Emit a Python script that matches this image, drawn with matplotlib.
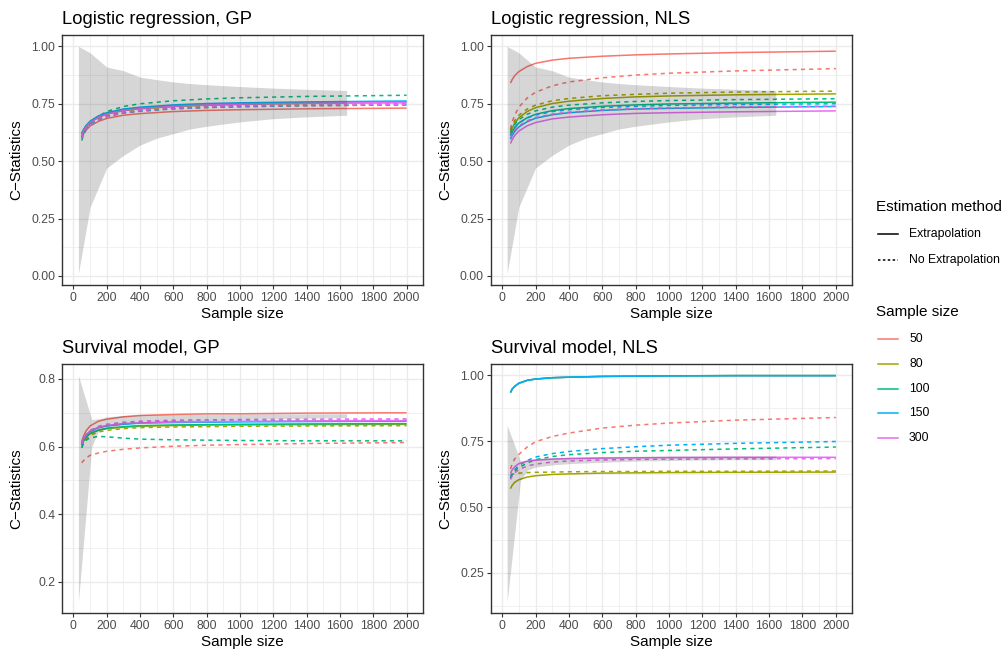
import numpy as np
import matplotlib.pyplot as plt
from matplotlib.lines import Line2D

plt.rcParams['font.family'] = ['Liberation Sans', 'DejaVu Sans']

# legend levels
sizes = ['50', '80', '100', '150', '300']
colors = ['#F8766D', '#A3A500', '#00BF7D', '#00B0F6', '#E76BF3']
methods = ['Extrapolation', 'No Extrapolation']

# sample sizes at which the learning curves were read
n_grid = [50, 60, 75, 100, 150, 200, 300, 400, 600, 800, 1000, 1400, 2000]

# Logistic regression, GP
lr_gp_extra = {
    '50':  [0.605, 0.619, 0.635, 0.653, 0.673, 0.686, 0.700, 0.707, 0.716, 0.721, 0.724, 0.728, 0.731],
    '80':  [0.615, 0.630, 0.649, 0.668, 0.691, 0.705, 0.720, 0.728, 0.738, 0.744, 0.747, 0.752, 0.755],
    '100': [0.620, 0.635, 0.653, 0.672, 0.695, 0.708, 0.724, 0.732, 0.741, 0.747, 0.750, 0.755, 0.758],
    '150': [0.620, 0.636, 0.654, 0.674, 0.697, 0.711, 0.727, 0.735, 0.745, 0.751, 0.754, 0.758, 0.762],
    '300': [0.615, 0.631, 0.649, 0.669, 0.691, 0.705, 0.721, 0.729, 0.739, 0.745, 0.748, 0.752, 0.756],
}
lr_gp_noextra = {
    '50':  [0.600, 0.616, 0.635, 0.655, 0.678, 0.693, 0.709, 0.717, 0.728, 0.733, 0.737, 0.741, 0.745],
    '80':  [0.605, 0.621, 0.640, 0.660, 0.683, 0.698, 0.714, 0.722, 0.733, 0.738, 0.742, 0.746, 0.750],
    '100': [0.590, 0.612, 0.637, 0.665, 0.696, 0.716, 0.738, 0.750, 0.763, 0.771, 0.776, 0.782, 0.787],
    '150': [0.605, 0.620, 0.639, 0.658, 0.681, 0.695, 0.710, 0.718, 0.728, 0.734, 0.737, 0.742, 0.745],
    '300': [0.600, 0.616, 0.636, 0.656, 0.680, 0.695, 0.711, 0.720, 0.730, 0.736, 0.740, 0.744, 0.748],
}

# Logistic regression, NLS
lr_nls_extra = {
    '50':  [0.840, 0.855, 0.872, 0.890, 0.912, 0.926, 0.940, 0.948, 0.957, 0.963, 0.967, 0.973, 0.979],
    '80':  [0.625, 0.643, 0.665, 0.689, 0.716, 0.733, 0.751, 0.761, 0.773, 0.780, 0.784, 0.789, 0.793],
    '100': [0.610, 0.626, 0.645, 0.666, 0.689, 0.704, 0.720, 0.729, 0.739, 0.745, 0.749, 0.753, 0.757],
    '150': [0.595, 0.611, 0.629, 0.649, 0.672, 0.687, 0.702, 0.711, 0.721, 0.727, 0.730, 0.734, 0.738],
    '300': [0.577, 0.593, 0.611, 0.631, 0.654, 0.668, 0.684, 0.692, 0.702, 0.708, 0.711, 0.715, 0.719],
}
lr_nls_noextra = {
    '50':  [0.640, 0.670, 0.700, 0.735, 0.775, 0.800, 0.828, 0.845, 0.863, 0.875, 0.883, 0.893, 0.903],
    '80':  [0.635, 0.654, 0.676, 0.700, 0.727, 0.744, 0.763, 0.773, 0.785, 0.791, 0.796, 0.801, 0.805],
    '100': [0.625, 0.641, 0.660, 0.681, 0.704, 0.719, 0.735, 0.744, 0.754, 0.760, 0.764, 0.768, 0.772],
    '150': [0.615, 0.630, 0.647, 0.666, 0.688, 0.701, 0.716, 0.724, 0.734, 0.739, 0.743, 0.747, 0.750],
    '300': [0.600, 0.615, 0.634, 0.653, 0.676, 0.690, 0.705, 0.713, 0.723, 0.729, 0.732, 0.737, 0.740],
}

# Survival model, GP
sv_gp_extra = {
    '50':  [0.615, 0.630, 0.646, 0.661, 0.675, 0.681, 0.688, 0.692, 0.695, 0.697, 0.697, 0.699, 0.700],
    '80':  [0.605, 0.616, 0.627, 0.638, 0.648, 0.653, 0.657, 0.660, 0.662, 0.664, 0.664, 0.665, 0.666],
    '100': [0.605, 0.616, 0.628, 0.639, 0.649, 0.654, 0.659, 0.662, 0.664, 0.665, 0.666, 0.667, 0.668],
    '150': [0.610, 0.622, 0.633, 0.645, 0.656, 0.661, 0.666, 0.669, 0.671, 0.672, 0.673, 0.674, 0.675],
    '300': [0.610, 0.622, 0.634, 0.646, 0.657, 0.662, 0.668, 0.670, 0.673, 0.674, 0.675, 0.676, 0.677],
}
sv_gp_noextra = {
    '50':  [0.552, 0.558, 0.566, 0.574, 0.581, 0.586, 0.592, 0.596, 0.601, 0.604, 0.606, 0.609, 0.612],
    '80':  [0.598, 0.610, 0.621, 0.633, 0.643, 0.648, 0.653, 0.656, 0.658, 0.659, 0.660, 0.661, 0.662],
    '100': [0.596, 0.608, 0.618, 0.626, 0.630, 0.629, 0.625, 0.622, 0.620, 0.619, 0.618, 0.617, 0.617],
    '150': [0.605, 0.618, 0.631, 0.644, 0.656, 0.662, 0.668, 0.671, 0.674, 0.675, 0.676, 0.677, 0.678],
    '300': [0.608, 0.621, 0.635, 0.648, 0.660, 0.666, 0.672, 0.675, 0.678, 0.679, 0.680, 0.681, 0.682],
}

# Survival model, NLS
sv_nls_extra = {
    '50':  [0.935, 0.948, 0.958, 0.970, 0.981, 0.986, 0.991, 0.993, 0.996, 0.997, 0.998, 0.999, 0.999],
    '80':  [0.570, 0.583, 0.594, 0.604, 0.614, 0.619, 0.624, 0.626, 0.629, 0.630, 0.631, 0.632, 0.633],
    '100': [0.935, 0.948, 0.958, 0.970, 0.981, 0.986, 0.991, 0.993, 0.996, 0.997, 0.998, 0.999, 0.999],
    '150': [0.935, 0.948, 0.958, 0.970, 0.981, 0.986, 0.991, 0.993, 0.996, 0.997, 0.998, 0.999, 0.999],
    '300': [0.628, 0.641, 0.653, 0.665, 0.674, 0.678, 0.682, 0.684, 0.686, 0.687, 0.688, 0.689, 0.689],
}
sv_nls_noextra = {
    '50':  [0.645, 0.663, 0.683, 0.700, 0.728, 0.748, 0.768, 0.781, 0.800, 0.811, 0.819, 0.830, 0.840],
    '80':  [0.620, 0.624, 0.627, 0.629, 0.631, 0.632, 0.633, 0.634, 0.635, 0.635, 0.636, 0.636, 0.637],
    '100': [0.610, 0.623, 0.636, 0.650, 0.667, 0.680, 0.692, 0.699, 0.707, 0.712, 0.715, 0.721, 0.728],
    '150': [0.615, 0.628, 0.642, 0.658, 0.677, 0.690, 0.703, 0.711, 0.722, 0.729, 0.735, 0.742, 0.749],
    '300': [0.605, 0.618, 0.630, 0.642, 0.656, 0.663, 0.671, 0.675, 0.679, 0.681, 0.682, 0.683, 0.684],
}

# grey uncertainty band
lr_band_x = [30, 100, 200, 300, 400, 500, 600, 700, 800, 1000, 1200, 1400, 1640]
lr_band_lo = [0.01, 0.30, 0.47, 0.525, 0.57, 0.60, 0.62, 0.64, 0.652, 0.671, 0.685, 0.693, 0.70]
lr_band_hi = [1.00, 0.972, 0.91, 0.894, 0.866, 0.855, 0.845, 0.838, 0.833, 0.825, 0.818, 0.813, 0.808]

sv_band_x = [30, 110, 150, 200, 300, 400, 600, 800, 1000, 1200, 1400, 1640]
sv_gp_band_lo = [0.14, 0.60, 0.645, 0.655, 0.665, 0.670, 0.675, 0.678, 0.680, 0.682, 0.684, 0.686]
sv_gp_band_hi = [0.81, 0.68, 0.682, 0.688, 0.692, 0.694, 0.695, 0.696, 0.696, 0.697, 0.697, 0.697]
sv_nls_band_lo = [0.14, 0.60, 0.640, 0.652, 0.660, 0.665, 0.670, 0.675, 0.677, 0.679, 0.680, 0.680]
sv_nls_band_hi = [0.81, 0.675, 0.680, 0.685, 0.688, 0.690, 0.692, 0.693, 0.694, 0.694, 0.694, 0.694]

panels = [
    ('Logistic regression, GP', lr_gp_extra, lr_gp_noextra, lr_band_x, lr_band_lo, lr_band_hi,
     [0, 0.25, 0.5, 0.75, 1.0], '%.2f'),
    ('Logistic regression, NLS', lr_nls_extra, lr_nls_noextra, lr_band_x, lr_band_lo, lr_band_hi,
     [0, 0.25, 0.5, 0.75, 1.0], '%.2f'),
    ('Survival model, GP', sv_gp_extra, sv_gp_noextra, sv_band_x, sv_gp_band_lo, sv_gp_band_hi,
     [0.2, 0.4, 0.6, 0.8], '%.1f'),
    ('Survival model, NLS', sv_nls_extra, sv_nls_noextra, sv_band_x, sv_nls_band_lo, sv_nls_band_hi,
     [0.25, 0.5, 0.75, 1.0], '%.2f'),
]

W, H = 1008, 652
fig = plt.figure(figsize=(W / 100, H / 100), dpi=100)

# panel boxes in pixels: left, top, right, bottom
boxes = [(62, 35, 423, 285), (490.7, 35, 852.3, 285),
         (62, 364.3, 423, 613.3), (490.7, 364.3, 852.3, 613.3)]

grid_col = '#EBEBEB'
dark = '#333333'
dash = (2.7, 2.7)

for (title, extra, noextra, bx, blo, bhi, yt, fmt), (l, t, r, b) in zip(panels, boxes):
    ax = fig.add_axes([l / W, 1 - b / H, (r - l) / W, (b - t) / H])
    ax.set_axisbelow(True)

    for s, c in zip(sizes, colors):
        ax.plot(n_grid, extra[s], color=c, lw=1.1, solid_capstyle='butt', zorder=2)
        ax.plot(n_grid, noextra[s], color=c, lw=1.1, dashes=dash, zorder=2)
    ax.fill_between(bx, blo, bhi, color='#333333', alpha=0.2, lw=0, zorder=3)

    ax.set_xticks(np.arange(0, 2001, 200))
    ax.set_xticks(np.arange(100, 2001, 200), minor=True)
    ax.set_yticks(yt)
    ax.set_yticklabels([fmt % v for v in yt])
    step = yt[1] - yt[0]
    ax.set_yticks([v + step / 2 for v in [yt[0] - step] + yt], minor=True)

    # ggplot-like limits: 5% expansion of the data range (set after the ticks)
    allv = [v for d in (extra, noextra) for s in sizes for v in d[s]] + blo + bhi
    lo, hi = min(allv), max(allv)
    ax.set_ylim(lo - 0.05 * (hi - lo), hi + 0.05 * (hi - lo))
    ax.set_xlim(30 - 0.05 * 1970, 2000 + 0.05 * 1970)

    ax.grid(True, which='major', color=grid_col, lw=1.0)
    ax.grid(True, which='minor', color=grid_col, lw=0.5)
    ax.tick_params(which='major', length=2.75, width=0.8, color=dark, pad=2.2,
                   labelsize=8.8, labelcolor='#4D4D4D')
    ax.tick_params(which='minor', length=0)
    for sp in ax.spines.values():
        sp.set_color(dark)
        sp.set_linewidth(1.0)
        sp.set_zorder(5)

    ax.text(0, 1 + 11.5 / (b - t), title, transform=ax.transAxes, ha='left',
            va='baseline', fontsize=13.2, color='black')
    ax.text(0.5, -29 / (b - t), 'Sample size', transform=ax.transAxes, ha='center',
            va='center', fontsize=11)
    ax.text(-45.5 / (r - l), 0.5, 'C\u2212Statistics', transform=ax.transAxes, ha='center',
            va='center', rotation=90, fontsize=11)

# legends drawn by hand to the right of the panels
def fx(px):
    return px / W

def fy(py):
    return 1 - py / H

fig.text(fx(876), fy(207), 'Estimation method', fontsize=11, va='center', ha='left')
for i, m in enumerate(methods):
    y = 234 + i * 25.5
    kw = dict(dashes=(1.6, 1.6)) if i == 1 else {}
    fig.add_artist(Line2D([fx(878), fx(898)], [fy(y), fy(y)], color='black', lw=1.1,
                          transform=fig.transFigure, **kw))
    fig.text(fx(909), fy(y), m, fontsize=8.8, va='center', ha='left')

fig.text(fx(876), fy(312), 'Sample size', fontsize=11, va='center', ha='left')
for i, (s, c) in enumerate(zip(sizes, colors)):
    y = 339 + i * 24.8
    fig.add_artist(Line2D([fx(878), fx(898)], [fy(y), fy(y)], color=c, lw=1.1,
                          transform=fig.transFigure))
    fig.text(fx(909), fy(y), s, fontsize=8.8, va='center', ha='left')

fig.savefig('out.png', dpi=100, facecolor='white')
